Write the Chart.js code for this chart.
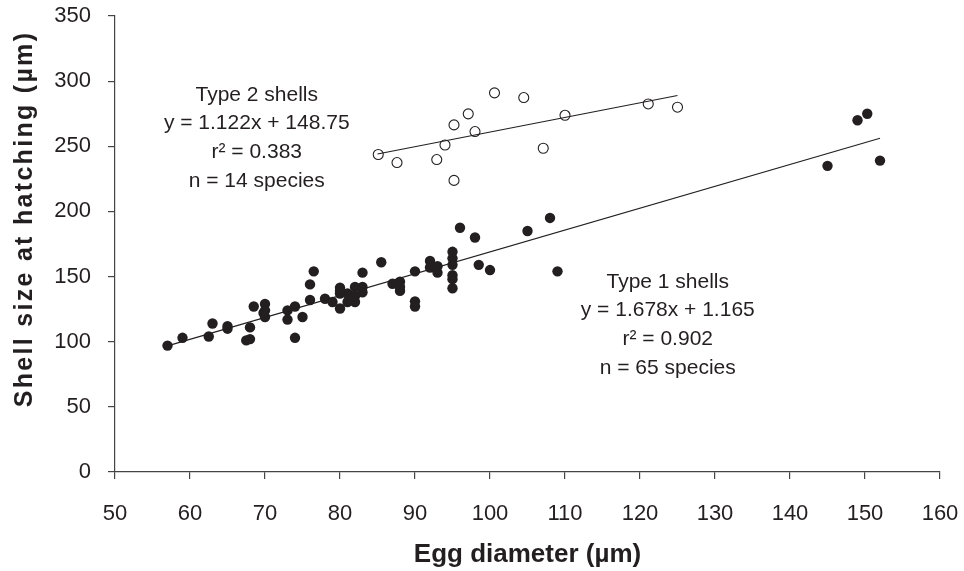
<!DOCTYPE html>
<html>
<head>
<meta charset="utf-8">
<script src="https://cdn.jsdelivr.net/npm/chart.js@4.4.1/dist/chart.umd.min.js"></script>
<style>
    html, body { margin: 0; padding: 0; background: #fff; }
    #wrap { width: 964px; height: 571px; }
</style>
</head>
<body>
<div id="wrap"><canvas id="chart" width="964" height="571"></canvas></div>
<script>
// Egg diameter (x) vs shell size at hatching (y)

// Type 1 shells (filled dots)
const type1X = [57, 59, 62.5, 63, 65, 65, 67.5, 68, 68, 68.5, 70, 69.8, 70, 73, 73, 74, 74, 75, 76, 76.5,
    76, 78, 79, 80, 80, 80, 81, 82, 82, 81, 83, 83, 83, 85.5, 87, 88, 88, 90, 90, 90,
    92, 92, 93, 95, 95, 95, 95, 95, 96, 98, 98.5, 100, 105, 108, 109, 145, 149, 150.3, 152,
    70, 80, 82, 88, 93, 95];
const type1Y = [97, 103, 104, 114, 110, 112, 101, 102, 111, 127, 129, 122, 119, 124, 117, 127, 103, 119, 144, 154,
    132, 133, 130.5, 141.5, 125.5, 137, 137, 142, 130.5, 130.5, 142, 153, 138, 161, 144.5, 146, 139, 154, 131, 127,
    162, 157, 153, 169, 164, 159, 148, 141, 187.5, 180, 159, 155, 185, 195, 154, 235, 270, 275, 239,
    124, 139, 135, 142, 158, 151];

// Type 2 shells (open circles)
const type2X = [85.1, 87.6, 92.9, 94.0, 95.2, 95.2, 97.1, 98.0, 100.6, 104.5, 107.1, 110.0, 121.1, 125.0];
const type2Y = [243.7, 237.5, 239.8, 251, 223.8, 266.4, 274.9, 261.3, 291, 287.4, 248.5, 273.8, 282.5, 280];

// Fitted lines, end points as drawn
const fit1X = [57, 152];
const fit1Y = [96.8, 256.2];
const fit2X = [85, 125];
const fit2Y = [244.1, 289];

// Axis ticks
const xTicks = [50, 60, 70, 80, 90, 100, 110, 120, 130, 140, 150, 160];
const yTicks = [0, 50, 100, 150, 200, 250, 300, 350];

// Annotation text
const type2Text = ['Type 2 shells', 'y = 1.122x + 148.75', 'r\u00b2 = 0.383', 'n = 14 species'];
const type1Text = ['Type 1 shells', 'y = 1.678x + 1.165', 'r\u00b2 = 0.902', 'n = 65 species'];
const yTitle = 'Shell size at hatching (\u00b5m)';

const INK = '#231f20';
const FONT = '"Liberation Sans", Arial, sans-serif';

function toPoints(xs, ys) {
    return xs.map((x, i) => ({ x: x, y: ys[i] }));
}

// Draws the regression labels at data positions, plus the y title
const labelPlugin = {
    id: 'fitLabels',
    afterDatasetsDraw(chart) {
        const ctx = chart.ctx;
        const xs = chart.scales.x;
        const ys = chart.scales.y;
        const blocks = [
            { lines: type2Text, x: 68.9, y: 289.4 },
            { lines: type1Text, x: 123.7, y: 145.8 }
        ];
        ctx.save();
        ctx.fillStyle = INK;
        ctx.font = '21px ' + FONT;
        ctx.textAlign = 'center';
        ctx.textBaseline = 'middle';
        blocks.forEach(b => {
            const cx = xs.getPixelForValue(b.x);
            const cy = ys.getPixelForValue(b.y);
            b.lines.forEach((t, i) => ctx.fillText(t, cx, cy + i * 28.6));
        });

        // y axis title, a little stretched like the original
        ctx.font = 'bold 25px ' + FONT;
        ctx.letterSpacing = '2.3px';
        ctx.translate(25, 219);
        ctx.rotate(-Math.PI / 2);
        ctx.fillText(yTitle, 0, 0);
        ctx.restore();
    }
};

new Chart(document.getElementById('chart').getContext('2d'), {
    type: 'scatter',
    data: {
        datasets: [
            {
                type: 'line',
                data: toPoints(fit1X, fit1Y),
                borderColor: INK,
                borderWidth: 1.2,
                pointRadius: 0,
                fill: false
            },
            {
                type: 'line',
                data: toPoints(fit2X, fit2Y),
                borderColor: INK,
                borderWidth: 1.2,
                pointRadius: 0,
                fill: false
            },
            {
                data: toPoints(type1X, type1Y),
                pointRadius: 5.2,
                pointBackgroundColor: INK,
                pointBorderColor: INK,
                pointBorderWidth: 0
            },
            {
                data: toPoints(type2X, type2Y),
                pointRadius: 5,
                pointBackgroundColor: 'rgba(0,0,0,0)',
                pointBorderColor: INK,
                pointBorderWidth: 1.1
            }
        ]
    },
    options: {
        responsive: false,
        animation: false,
        events: [],
        layout: { padding: { left: 0, right: 24, top: 16, bottom: 0 } },
        plugins: {
            legend: { display: false },
            tooltip: { enabled: false }
        },
        scales: {
            x: {
                type: 'linear',
                min: 50,
                max: 160,
                afterBuildTicks: s => { s.ticks = xTicks.map(v => ({ value: v })); },
                afterFit: s => { s.height = 99; s.paddingLeft = 0; s.paddingRight = 0; },
                border: { color: '#444', width: 1.2 },
                grid: { drawOnChartArea: false, drawTicks: true, tickLength: 7, color: '#444', lineWidth: 1.2 },
                ticks: { color: INK, font: { family: FONT, size: 22 }, padding: 22, maxRotation: 0 },
                title: {
                    display: true,
                    text: 'Egg diameter (\u00b5m)',
                    color: INK,
                    font: { family: FONT, size: 26, weight: 'bold' },
                    padding: { top: 0, bottom: 1 }
                }
            },
            y: {
                type: 'linear',
                min: 0,
                max: 350,
                afterBuildTicks: s => { s.ticks = yTicks.map(v => ({ value: v })); },
                afterFit: s => { s.width = 115; s.paddingTop = 0; s.paddingBottom = 0; },
                border: { color: '#444', width: 1.2 },
                grid: { drawOnChartArea: false, drawTicks: true, tickLength: 7, color: '#444', lineWidth: 1.2 },
                ticks: { color: INK, font: { family: FONT, size: 22 }, padding: 17 }
            }
        }
    },
    plugins: [labelPlugin]
});
</script>
</body>
</html>
